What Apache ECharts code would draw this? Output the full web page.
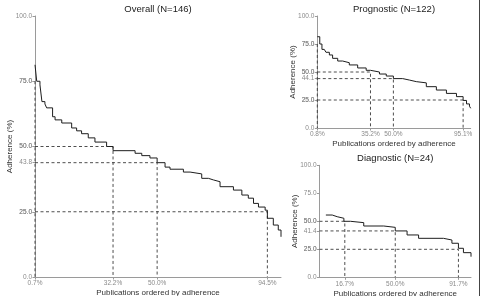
<!DOCTYPE html>
<html>
<head>
<meta charset="utf-8">
<script src="https://cdn.jsdelivr.net/npm/echarts@6/dist/echarts.min.js"></script>
<style>
  html, body { margin: 0; padding: 0; background: #fff; }
  #chart { width: 482px; height: 296px; }
</style>
</head>
<body>
<div id="chart"></div>
<script>
// step curves: x = publications ordered by adherence (%), y = adherence (%)
const overallX = [0.7, 1.4, 2.7, 3.5, 4.7, 5.4, 7.8, 8.8, 11.5, 15.5, 17.5, 19.5, 22.2, 24.9, 29.6, 32.2, 41.1, 43.8, 47.1, 50.0, 53.2, 55.2, 60.6, 63.3, 68.0, 70.7, 72.7, 75.4, 80.8, 84.2, 86.8, 88.9, 90.9, 93.6, 94.5, 96.9, 98.9, 100]
const overallY = [81.3, 75.0, 73.6, 67.2, 66.3, 64.8, 61.4, 60.2, 59.0, 57.1, 56.0, 54.9, 53.3, 51.7, 50.0, 48.4, 47.4, 46.5, 45.6, 43.8, 42.1, 41.3, 40.2, 39.5, 37.8, 37.2, 36.5, 34.6, 33.3, 31.4, 30.2, 28.2, 26.8, 25.6, 22.5, 19.9, 18.0, 15.4]

const progX = [0.8, 2.4, 3.8, 5.3, 6.4, 8.6, 10.7, 14.0, 17.2, 21.5, 26.9, 32.4, 35.2, 41.0, 45.4, 50.0, 56.0, 60.4, 64.8, 71.3, 77.8, 84.3, 90.8, 95.1, 97.3, 99.2, 100]
const progY = [81.5, 75.0, 70.2, 68.8, 67.6, 65.2, 62.2, 59.8, 58.3, 56.3, 53.6, 51.5, 50.0, 48.2, 46.4, 44.1, 42.8, 41.4, 40.3, 36.9, 33.9, 30.9, 28.0, 24.6, 21.5, 19.5, 17.6]

const diagX = [4.2, 8.4, 11.7, 16.1, 20.5, 29.2, 42.4, 50.0, 57.8, 65.4, 81.8, 87.4, 91.7, 95.0, 100]
const diagY = [55.6, 54.1, 52.7, 50.0, 48.8, 45.8, 44.6, 41.4, 37.8, 34.8, 33.3, 30.4, 25.9, 22.0, 18.4]

// dashed reference lines (x tick, y tick)
const overallMarkX = [0.7, 32.2, 50.0, 94.5]
const overallMarkY = [75.0, 50.0, 43.8, 25.0]
const progMarkX = [0.8, 35.2, 50.0, 95.1]
const progMarkY = [75.0, 50.0, 44.1, 25.0]
const diagMarkX = [16.7, 50.0, 91.7]
const diagMarkY = [50.0, 41.4, 25.0]

const baseYTicks = [0, 25, 50, 75, 100]

const panels = [
    { title: 'Overall (N=146)', x: overallX, y: overallY, mx: overallMarkX, my: overallMarkY,
      grid: { left: 35, top: 16, width: 246, height: 261 }, xmin: 0.7 },
    { title: 'Prognostic (N=122)', x: progX, y: progY, mx: progMarkX, my: progMarkY,
      grid: { left: 317.3, top: 16, width: 153.4, height: 112 }, xmin: 0.8 },
    { title: 'Diagnostic (N=24)', x: diagX, y: diagY, mx: diagMarkX, my: diagMarkY,
      grid: { left: 319.5, top: 165.3, width: 151.5, height: 112 }, xmin: 0 }
]

const FONT = '"Liberation Sans", Arial, sans-serif'
const axisGray = '#9a9a9a'
const labelGray = '#8a8a8a'

let grids = [], xAxes = [], yAxes = [], titles = [], series = []

panels.forEach((p, i) => {
    grids.push(Object.assign({ outerBoundsMode: 'none', containLabel: false }, p.grid))
    titles.push({
        text: p.title,
        left: p.grid.left + p.grid.width / 2,
        top: p.grid.top - 11.5,
        padding: 0,
        textAlign: 'center',
        textStyle: { fontFamily: FONT, fontSize: 9.5, fontWeight: 'normal', color: '#222' }
    })
    xAxes.push({
        type: 'value', gridIndex: i, min: p.xmin, max: 100,
        name: 'Publications ordered by adherence', nameLocation: 'middle', nameGap: 12,
        nameMoveOverlap: false,
        nameTextStyle: { fontFamily: FONT, fontSize: 8, color: '#333' },
        axisLine: { show: true, onZero: false, lineStyle: { color: axisGray, width: 1 } },
        axisTick: { show: true, length: 2.5, customValues: p.mx, lineStyle: { color: axisGray } },
        axisLabel: { customValues: p.mx, margin: 3, fontFamily: FONT, fontSize: 6.5, color: labelGray,
            formatter: v => v.toFixed(1) + '%' },
        splitLine: { show: false }
    })
    const yt = baseYTicks.concat(p.my).sort((a, b) => a - b)
    yAxes.push({
        type: 'value', gridIndex: i, min: 0, max: 100,
        name: 'Adherence (%)', nameLocation: 'middle', nameGap: 21,
        nameMoveOverlap: false,
        nameTextStyle: { fontFamily: FONT, fontSize: 8, color: '#333' },
        axisLine: { show: true, lineStyle: { color: axisGray, width: 1 } },
        axisTick: { show: true, length: 2.5, customValues: yt, lineStyle: { color: axisGray } },
        axisLabel: { customValues: yt, margin: 3, fontFamily: FONT, fontSize: 6.5, color: labelGray,
            formatter: v => v.toFixed(1) },
        splitLine: { show: false }
    })
    // dashed guides
    p.mx.forEach((mx, k) => {
        series.push({
            type: 'line', xAxisIndex: i, yAxisIndex: i, symbol: 'none', silent: true, z: 1,
            data: [[p.xmin, p.my[k]], [mx, p.my[k]], [mx, 0]],
            lineStyle: { color: '#3a3a3a', width: 0.9, type: [3, 2.5] }
        })
    })
    series.push({
        type: 'line', xAxisIndex: i, yAxisIndex: i, step: 'end', symbol: 'none', z: 3,
        data: p.x.map((v, k) => [v, p.y[k]]),
        lineStyle: { color: '#1e1e1e', width: 1 }
    })
})

const chart = echarts.init(document.getElementById('chart'), null, { renderer: 'canvas' })
chart.setOption({
    backgroundColor: '#fff',
    animation: false,
    title: titles,
    grid: grids,
    xAxis: xAxes,
    yAxis: yAxes,
    series: series,
    graphic: [{
        type: 'line', shape: { x1: 479.5, y1: 0, x2: 479.5, y2: 296 },
        style: { stroke: '#444', lineWidth: 1 }
    }]
})
</script>
</body>
</html>
